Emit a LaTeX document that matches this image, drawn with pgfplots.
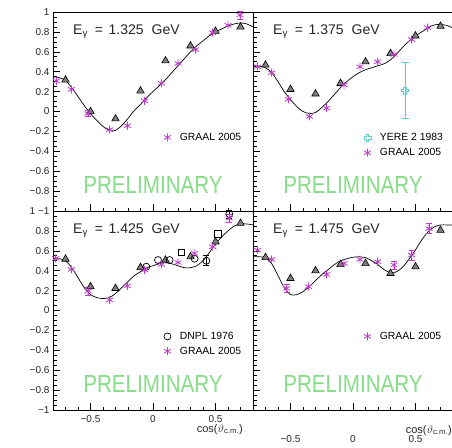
\documentclass[border=0pt]{standalone}
\usepackage{fontspec}
\setmainfont{Liberation Sans}
\usepackage{graphicx}
\usepackage{pgfplots}
\pgfplotsset{compat=1.18}
\definecolor{graal}{RGB}{190,60,200}
\definecolor{yere}{RGB}{90,205,210}
\definecolor{prelim}{RGB}{135,220,135}
\definecolor{trig}{RGB}{125,125,125}

\pgfdeclareplotmark{ocross}{%
  \pgfmathsetlengthmacro\mkR{\pgfplotmarksize}%
  \pgfmathsetlengthmacro\mkA{0.35*\pgfplotmarksize}%
  \pgfpathmoveto{\pgfqpoint{-\mkA}{\mkR}}%
  \pgfpathlineto{\pgfqpoint{\mkA}{\mkR}}%
  \pgfpathlineto{\pgfqpoint{\mkA}{\mkA}}%
  \pgfpathlineto{\pgfqpoint{\mkR}{\mkA}}%
  \pgfpathlineto{\pgfqpoint{\mkR}{-\mkA}}%
  \pgfpathlineto{\pgfqpoint{\mkA}{-\mkA}}%
  \pgfpathlineto{\pgfqpoint{\mkA}{-\mkR}}%
  \pgfpathlineto{\pgfqpoint{-\mkA}{-\mkR}}%
  \pgfpathlineto{\pgfqpoint{-\mkA}{-\mkA}}%
  \pgfpathlineto{\pgfqpoint{-\mkR}{-\mkA}}%
  \pgfpathlineto{\pgfqpoint{-\mkR}{\mkA}}%
  \pgfpathlineto{\pgfqpoint{-\mkA}{\mkA}}%
  \pgfpathclose\pgfusepathqstroke}

\pgfplotsset{
  myleg/.style={legend image code/.code={\draw[mark repeat=2,mark phase=2,##1] plot coordinates {(0pt,0pt) (7pt,0pt) (14pt,0pt)};}},
  graalst/.style={only marks, mark=asterisk, mark size=4pt, color=graal, mark options={line width=0.8pt}},
  graalerr/.style={graalst, error bars/y dir=both, error bars/y explicit,
     error bars/error bar style={graal, line width=0.6pt},
     error bars/error mark options={rotate=90, mark size=3pt, graal, line width=0.6pt}},
  trist/.style={only marks, mark=triangle*, mark size=4.3pt, mark options={fill=trig, draw=black, line width=0.6pt}},
  curvest/.style={black, line width=0.7pt, smooth, no marks},
  panel/.style={
    scale only axis, width=200pt, height=199pt,
    xmin=-0.8, xmax=0.8, ymin=-1, ymax=1,
    clip=false,
    axis line style={line width=0.6pt},
    every tick/.style={black, line width=0.6pt},
    tick align=inside,
    xtick pos=left, ytick pos=left,
    xtick={-0.5,0,0.5},
    minor xtick={-0.8,-0.7,-0.6,-0.4,-0.3,-0.2,-0.1,0.1,0.2,0.3,0.4,0.6,0.7,0.8},
    ytick={-1,-0.8,-0.6,-0.4,-0.2,0,0.2,0.4,0.6,0.8,1},
    minor ytick={-0.95,-0.9,-0.85,-0.75,-0.7,-0.65,-0.55,-0.5,-0.45,-0.35,-0.3,-0.25,-0.15,-0.1,-0.05,0.05,0.1,0.15,0.25,0.3,0.35,0.45,0.5,0.55,0.65,0.7,0.75,0.85,0.9,0.95},
    major tick length=7pt, minor tick length=3.5pt,
    tick label style={font=\fontsize{10}{10}\selectfont, text=black!85},
    legend style={draw=none, fill=none, inner sep=0pt, anchor=west, row sep=2pt, column sep=7pt,
      font=\fontsize{10.4}{12}\selectfont},
    legend cell align=left,
  },
}

\newcommand{\ptitle}[1]{\node[anchor=base west, inner sep=0pt, text=black!85, font=\fontsize{14}{14}\selectfont] at (rel axis cs:0.1,0.889) {E\textsubscript{γ}\hspace{7pt}=\hspace{5.5pt}#1\hspace{8pt}GeV};}
\newcommand{\prelim}{\node[anchor=base, inner sep=0pt, text=prelim, font=\fontsize{20.6}{20}\selectfont] at (rel axis cs:0.5,0.09) {\scalebox{1}[1.2]{PRELIMINARY}};}

\begin{document}
\begin{tikzpicture}
\path[use as bounding box] (0pt,0pt) rectangle (452pt,-447pt);

% ---------------- top left: 1.325 GeV
\begin{axis}[panel, at={(53pt,-211pt)}, anchor=south west,
  xticklabels={},
  yticklabels={1\hspace{3pt}−1,−0.8,−0.6,−0.4,−0.2,0,0.2,0.4,0.6,0.8,1},
  legend style={at={(axis cs:0.086,-0.26)}}]
\addlegendimage{graalst, myleg}
\addlegendentry{GRAAL 2005}
\addplot[curvest, forget plot] coordinates {
(-0.8,0.35) (-0.75,0.34) (-0.7,0.31) (-0.65,0.24) (-0.6,0.15) (-0.55,0.06) (-0.5,-0.02)
(-0.45,-0.09) (-0.4,-0.15) (-0.35,-0.19) (-0.3,-0.19) (-0.25,-0.14) (-0.2,-0.07) (-0.15,0.01)
(-0.1,0.07) (-0.05,0.14) (0,0.2) (0.05,0.26) (0.1,0.32) (0.15,0.39) (0.2,0.46) (0.25,0.53)
(0.3,0.6) (0.35,0.66) (0.4,0.71) (0.45,0.76) (0.5,0.8) (0.55,0.83) (0.6,0.86) (0.65,0.88)
(0.7,0.89) (0.75,0.88) (0.8,0.85)};
\addplot[trist, forget plot] coordinates {
(-0.7,0.317) (-0.5,0.0) (-0.3,-0.073) (-0.1,0.207) (0.1,0.51) (0.3,0.66) (0.5,0.807) (0.7,0.85)};
\addplot[graalst, forget plot] coordinates {
(-0.773,0.307) (-0.653,0.223) (-0.347,-0.183) (-0.205,-0.143) (-0.067,0.107) (0.067,0.283)
(0.2,0.483) (0.341,0.623) (0.475,0.793) (0.6,0.867)};
\addplot[forget plot, graalerr] table[y error=e] {
x y e
-0.52 -0.02 0.03
0.696 0.97 0.04
};
\ptitle{1.325}
\prelim
\end{axis}

% ---------------- top right: 1.375 GeV
\begin{axis}[panel, at={(253pt,-211pt)}, anchor=south west,
  xticklabels={}, yticklabels={},
  legend style={at={(axis cs:0.086,-0.34)}}]
\addlegendimage{only marks, mark=ocross, mark size=3.5pt, color=yere, mark options={line width=0.7pt}, myleg}
\addlegendentry{YERE 2 1983}
\addlegendimage{graalst, myleg}
\addlegendentry{GRAAL 2005}
\addplot[curvest, forget plot] coordinates {
(-0.8,0.46) (-0.75,0.455) (-0.7,0.44) (-0.65,0.39) (-0.6,0.3) (-0.55,0.2) (-0.5,0.12)
(-0.45,0.05) (-0.4,0.0) (-0.35,-0.02) (-0.3,-0.01) (-0.25,0.04) (-0.2,0.1) (-0.15,0.17)
(-0.1,0.24) (-0.05,0.3) (0,0.35) (0.05,0.39) (0.1,0.42) (0.15,0.44) (0.2,0.46) (0.25,0.48)
(0.3,0.52) (0.35,0.58) (0.4,0.65) (0.45,0.71) (0.5,0.76) (0.55,0.8) (0.6,0.84) (0.65,0.87)
(0.7,0.875) (0.75,0.865) (0.8,0.84)};
\addplot[trist, forget plot] coordinates {
(-0.7,0.467) (-0.5,0.223) (-0.3,0.177) (-0.1,0.283) (0.1,0.5) (0.3,0.583) (0.5,0.76) (0.7,0.857)};
\addplot[graalst, forget plot] coordinates {
(-0.765,0.45) (-0.651,0.39) (-0.517,0.123) (-0.349,-0.05) (-0.211,0.033) (-0.072,0.267)
(0.056,0.45) (0.197,0.5) (0.328,0.573) (0.469,0.723) (0.597,0.843)};
\addplot[forget plot, only marks, mark=ocross, mark size=3.5pt, color=yere, mark options={line width=0.7pt},
  error bars/y dir=both, error bars/y explicit,
  error bars/error bar style={yere, line width=0.7pt},
  error bars/error mark options={rotate=90, mark size=3.5pt, yere, line width=0.7pt}]
  table[y error=e] {
x y e
0.416 0.21 0.28
};
\ptitle{1.375}
\prelim
\end{axis}

% ---------------- bottom left: 1.425 GeV
\begin{axis}[panel, at={(53pt,-410pt)}, anchor=south west,
  xticklabels={−0.5,0,0.5},
  xticklabel style={yshift=-2pt},
  yticklabels={−1,−0.8,−0.6,−0.4,−0.2,0,0.2,0.4,0.6,0.8,{}},
  legend style={at={(axis cs:0.086,-0.335)}}]
\addlegendimage{only marks, mark=o, mark size=3.5pt, black, mark options={line width=0.7pt}, myleg}
\addlegendentry{DNPL 1976}
\addlegendimage{graalst, myleg}
\addlegendentry{GRAAL 2005}
\addplot[curvest, forget plot] coordinates {
(-0.8,0.52) (-0.75,0.52) (-0.7,0.5) (-0.65,0.43) (-0.6,0.33) (-0.55,0.23) (-0.5,0.16)
(-0.45,0.13) (-0.4,0.12) (-0.35,0.13) (-0.3,0.17) (-0.25,0.23) (-0.2,0.29) (-0.15,0.35)
(-0.1,0.39) (-0.05,0.43) (0,0.45) (0.05,0.47) (0.1,0.48) (0.15,0.47) (0.2,0.45) (0.25,0.43)
(0.3,0.43) (0.35,0.45) (0.4,0.5) (0.45,0.58) (0.5,0.67) (0.55,0.74) (0.6,0.8) (0.65,0.85)
(0.7,0.87) (0.75,0.87) (0.8,0.86)};
\addplot[trist, forget plot] coordinates {
(-0.7,0.517) (-0.5,0.24) (-0.3,0.223) (-0.1,0.433) (0.1,0.507) (0.3,0.54) (0.5,0.69) (0.7,0.877)};
\addplot[forget plot, only marks, mark=o, mark size=3.5pt, black, mark options={line width=0.7pt}] coordinates {
(-0.053,0.44) (0.04,0.507) (0.133,0.507) (0.333,0.52)};
\addplot[forget plot, only marks, mark=o, mark size=3.5pt, black, mark options={line width=0.7pt},
  error bars/y dir=both, error bars/y explicit,
  error bars/error bar style={black, line width=0.6pt},
  error bars/error mark options={rotate=90, mark size=3pt, black, line width=0.6pt}]
  table[y error=e] {
x y e
0.427 0.5 0.05
0.61 0.97 0.04
};
\addplot[only marks, mark=square, mark size=3.3pt, black, mark options={line width=0.7pt}, forget plot] coordinates {
(0.227,0.583) (0.52,0.773)};
\addplot[graalst, forget plot] coordinates {
(-0.779,0.523) (-0.653,0.413) (-0.347,0.107) (-0.205,0.247) (-0.067,0.407) (0.067,0.463)
(0.2,0.483) (0.33,0.575) (0.478,0.64)};
\addplot[forget plot, graalerr] table[y error=e] {
x y e
-0.52 0.197 0.04
0.61 0.927 0.04
};
\ptitle{1.425}
\prelim
\node[anchor=north east, inner sep=0pt, text=black!85, font=\fontsize{11}{11}\selectfont, xshift=-10pt, yshift=-14pt] at (rel axis cs:1,0) {cos($\vartheta$\textsubscript{c.m.})};
\end{axis}

% ---------------- bottom right: 1.475 GeV
\begin{axis}[panel, at={(253pt,-410pt)}, anchor=south west,
  xticklabels={−0.5,0,0.5},
  xticklabel style={yshift=-22pt},
  yticklabels={},
  legend style={at={(axis cs:0.086,-0.26)}}]
\addlegendimage{graalst, myleg}
\addlegendentry{GRAAL 2005}
\addplot[curvest, forget plot] coordinates {
(-0.8,0.54) (-0.75,0.54) (-0.7,0.53) (-0.65,0.47) (-0.6,0.35) (-0.55,0.23) (-0.5,0.16)
(-0.45,0.16) (-0.4,0.19) (-0.35,0.24) (-0.3,0.3) (-0.25,0.36) (-0.2,0.41) (-0.15,0.46)
(-0.1,0.5) (-0.05,0.52) (0,0.535) (0.05,0.54) (0.1,0.53) (0.15,0.5) (0.2,0.46) (0.25,0.41)
(0.3,0.38) (0.35,0.39) (0.4,0.44) (0.45,0.52) (0.5,0.61) (0.55,0.71) (0.6,0.79) (0.65,0.84)
(0.7,0.86) (0.75,0.86) (0.8,0.86)};
\addplot[trist, forget plot] coordinates {
(-0.7,0.533) (-0.5,0.323) (-0.3,0.4) (-0.1,0.463) (0.1,0.473) (0.3,0.373) (0.5,0.44) (0.7,0.807)};
\addplot[graalst, forget plot] coordinates {
(-0.765,0.607) (-0.651,0.513) (-0.357,0.24) (-0.211,0.363) (-0.072,0.473) (0.056,0.513) (0.197,0.49)};
\addplot[forget plot, graalerr] table[y error=e] {
x y e
-0.531 0.223 0.04
0.328 0.457 0.04
0.469 0.557 0.05
0.608 0.823 0.05
};
\ptitle{1.475}
\prelim
\node[anchor=north east, inner sep=0pt, text=black!85, font=\fontsize{11}{11}\selectfont, xshift=-1pt, yshift=-15pt] at (rel axis cs:1,0) {cos($\vartheta$\textsubscript{c.m.})};
\end{axis}
\end{tikzpicture}
\end{document}
